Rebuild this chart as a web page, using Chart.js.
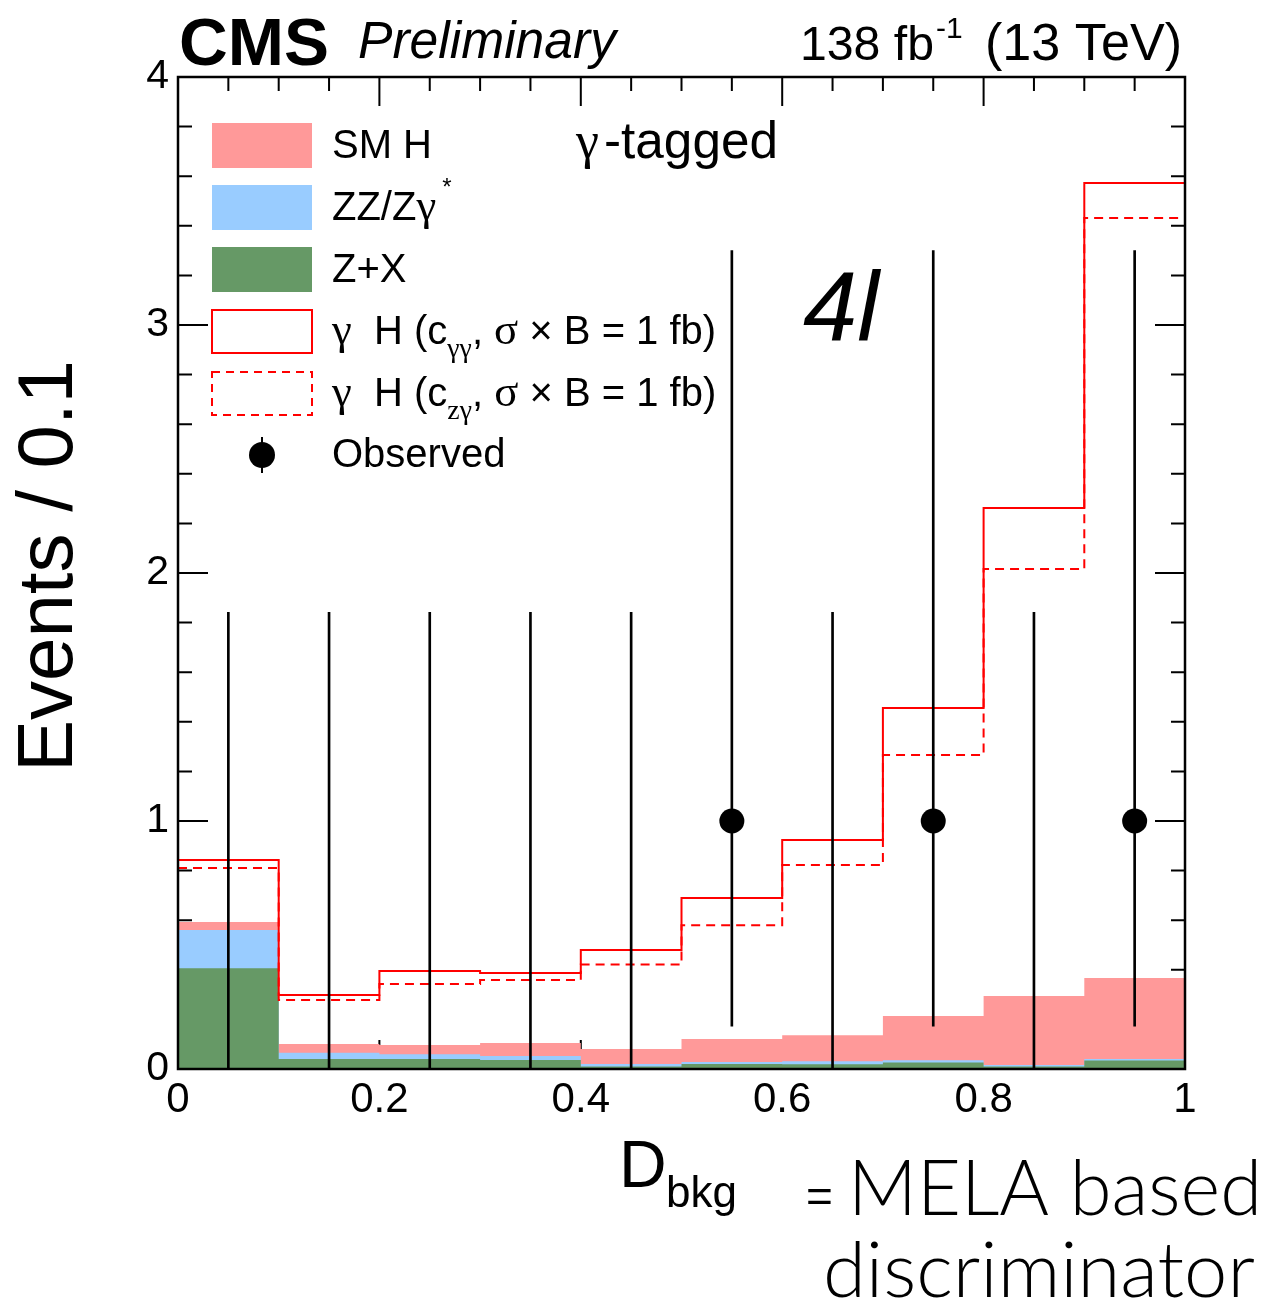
<!DOCTYPE html>
<html><head><meta charset="utf-8">
<script src="https://cdn.jsdelivr.net/npm/chart.js@4.4.0/dist/chart.umd.min.js"></script>
<style>html,body{margin:0;padding:0;background:#fff;} canvas{display:block;}</style>
</head><body>
<canvas id="c" width="1280" height="1312"></canvas>
<script>
// ---------------- data ----------------
const binEdges    = [0, 0.1, 0.2, 0.3, 0.4, 0.5, 0.6, 0.7, 0.8, 0.9, 1.0];
const binCenters  = [0.05, 0.15, 0.25, 0.35, 0.45, 0.55, 0.65, 0.75, 0.85, 0.95];
const zxValues    = [0.406, 0.040, 0.040, 0.036, 0.010, 0.020, 0.019, 0.026, 0.010, 0.034];
const zzValues    = [0.154, 0.026, 0.019, 0.016, 0.010, 0.008, 0.012, 0.009, 0.006, 0.006];
const smhValues   = [0.033, 0.035, 0.038, 0.053, 0.061, 0.093, 0.105, 0.179, 0.278, 0.327];
const gHggValues  = [0.843, 0.298, 0.395, 0.387, 0.480, 0.690, 0.923, 1.456, 2.262, 3.573];
const gHzgValues  = [0.810, 0.278, 0.343, 0.359, 0.421, 0.580, 0.823, 1.266, 2.016, 3.431];
const obsCounts   = [0, 0, 0, 0, 0, 1, 0, 1, 0, 1];
const obsErrLow   = [0, 0, 0, 0, 0, 0.827, 0, 0.827, 0, 0.827];
const obsErrHigh  = [1.841, 1.841, 1.841, 1.841, 1.841, 2.300, 1.841, 2.300, 1.841, 2.300];
const xTickValues = [0, 0.2, 0.4, 0.6, 0.8, 1.0];
const xTickLabels = ['0', '0.2', '0.4', '0.6', '0.8', '1'];
const yTickValues = [0, 1, 2, 3, 4];
const yTickLabels = ['0', '1', '2', '3', '4'];

// ---------------- styles ----------------
const COL_SMH = '#ff9999', COL_ZZ = '#99ccff', COL_ZX = '#669966', COL_RED = '#ff0000';
const SANS = '"Liberation Sans", Arial, Helvetica, sans-serif';
const SERIF = '"Liberation Serif", "DejaVu Serif", serif';
const THIN = 'Lato, "Open Sans", sans-serif';

function histPoints(vals) {
  const pts = [];
  vals.forEach((v, i) => { pts.push({x: binEdges[i], y: v}); pts.push({x: binEdges[i + 1], y: v}); });
  return pts;
}
const zzStack = zxValues.map((v, i) => v + zzValues[i]);
const totStack = zzStack.map((v, i) => v + smhValues[i]);

// ---------------- text helpers ----------------
function fitFont(ctx, text, weightStyle, family, baseSize, targetW) {
  ctx.font = `${weightStyle} ${baseSize}px ${family}`;
  const w = ctx.measureText(text).width;
  const size = targetW ? baseSize * targetW / w : baseSize;
  return `${weightStyle} ${size.toFixed(2)}px ${family}`;
}
// pieces: [text, kind, family]; kind 'n' | 'sub' | 'sup'; family 's' sans or 'g' serif (greek)
function drawPieces(ctx, x, y, pieces, size) {
  let cx = x;
  for (const [t, kind, fam] of pieces) {
    let fs = size, dy = 0;
    if (kind === 'sub') { fs = size * 0.62; dy = size * 0.33; }
    if (kind === 'sup') { fs = size * 0.6; dy = -size * 0.62; }
    const family = fam === 'g' ? SERIF : SANS;
    if (fam === 'g') fs *= 1.12;
    ctx.font = `${fs.toFixed(2)}px ${family}`;
    ctx.fillText(t, cx, y + dy);
    cx += ctx.measureText(t).width;
  }
  return cx;
}

// ---------------- plugins ----------------
const rootTicks = {
  id: 'rootTicks',
  beforeDatasetsDraw(chart) {
    const {ctx, chartArea: a, scales: {x, y}} = chart;
    ctx.save();
    ctx.strokeStyle = '#000';
    ctx.lineWidth = 2;
    ctx.beginPath();
    for (let i = 0; i <= 20; i++) {
      const px = x.getPixelForValue(i * 0.05);
      const len = (i % 4 === 0) ? 29 : 14;
      ctx.moveTo(px, a.bottom); ctx.lineTo(px, a.bottom - len);
      ctx.moveTo(px, a.top); ctx.lineTo(px, a.top + len);
    }
    for (let i = 0; i <= 20; i++) {
      const py = y.getPixelForValue(i * 0.2);
      const len = (i % 5 === 0) ? 30 : 14;
      ctx.moveTo(a.left, py); ctx.lineTo(a.left + len, py);
      ctx.moveTo(a.right, py); ctx.lineTo(a.right - len, py);
    }
    ctx.stroke();
    ctx.restore();
  },
  afterDatasetsDraw(chart) {
    const {ctx, chartArea: a} = chart;
    ctx.save();
    ctx.strokeStyle = '#000';
    ctx.lineWidth = 2.5;
    ctx.strokeRect(a.left, a.top, a.right - a.left, a.bottom - a.top);
    ctx.restore();
  }
};

const annotations = {
  id: 'annotations',
  afterDraw(chart) {
    const ctx = chart.ctx;
    ctx.save();
    ctx.fillStyle = '#000';
    ctx.textBaseline = 'alphabetic';
    ctx.textAlign = 'left';

    // header
    ctx.font = fitFont(ctx, 'CMS', 'bold', SANS, 66, 150);
    ctx.fillText('CMS', 179, 65);
    ctx.font = fitFont(ctx, 'Preliminary', 'italic', SANS, 50, 258);
    ctx.fillText('Preliminary', 358, 58);
    {
      const f = fitFont(ctx, '138 fb', '', SANS, 48, 134);
      ctx.font = f;
      ctx.fillText('138 fb', 800, 60);
      let cx = 800 + ctx.measureText('138 fb').width + 2;
      ctx.font = `30px ${SANS}`;
      ctx.fillText('-1', cx, 38);
      ctx.font = fitFont(ctx, '(13 TeV)', '', SANS, 48, 197);
      ctx.textAlign = 'right';
      ctx.fillText('(13 TeV)', 1182, 60);
      ctx.textAlign = 'left';
    }

    // y title
    ctx.save();
    ctx.translate(72, 566);
    ctx.rotate(-Math.PI / 2);
    ctx.textAlign = 'center';
    ctx.font = fitFont(ctx, 'Events / 0.1', '', SANS, 80, 412);
    ctx.fillText('Events / 0.1', 0, 0);
    ctx.restore();

    // x title
    ctx.font = `66px ${SANS}`;
    ctx.fillText('D', 619, 1187);
    ctx.font = fitFont(ctx, 'bkg', '', SANS, 42, 71);
    ctx.fillText('bkg', 666, 1207);
    {
      ctx.font = `300 46px ${SANS}`;
      const m = ctx.measureText('=');
      const asc = m.actualBoundingBoxAscent || 24, desc = m.actualBoundingBoxDescent || -10;
      const base = 1196 + (asc - desc) / 2;
      ctx.fillText('=', 806, base);
    }
    ctx.font = fitFont(ctx, 'MELA based', '300', THIN, 72, 414);
    ctx.fillText('MELA based', 848, 1215);
    ctx.font = fitFont(ctx, 'discriminator', '300', THIN, 72, 432);
    ctx.fillText('discriminator', 823, 1297);

    // in-plot labels
    ctx.font = `52px ${SERIF}`;
    ctx.fillText('γ', 576, 158);
    ctx.font = fitFont(ctx, '-tagged', '', SANS, 46, 174);
    ctx.fillText('-tagged', 604, 158);
    ctx.font = fitFont(ctx, '4l', 'italic', SANS, 100, 76);
    ctx.fillText('4l', 803, 340);

    // legend
    const bx = 212, bw = 100;
    ctx.fillStyle = COL_SMH; ctx.fillRect(bx, 123, bw, 45);
    ctx.fillStyle = COL_ZZ;  ctx.fillRect(bx, 185, bw, 45);
    ctx.fillStyle = COL_ZX;  ctx.fillRect(bx, 247, bw, 45);
    ctx.strokeStyle = COL_RED; ctx.lineWidth = 2;
    ctx.strokeRect(bx, 310, bw, 43);
    ctx.setLineDash([8, 6]);
    ctx.strokeRect(bx, 372, bw, 43);
    ctx.setLineDash([]);
    ctx.fillStyle = '#000';
    ctx.beginPath(); ctx.arc(262, 455, 13, 0, Math.PI * 2); ctx.fill();
    ctx.strokeStyle = '#000'; ctx.lineWidth = 2;
    ctx.beginPath(); ctx.moveTo(262, 437); ctx.lineTo(262, 473); ctx.stroke();

    const tx = 332, fs = 40;
    drawPieces(ctx, tx, 158, [['SM H', 'n', 's']], fs);
    const zzEnd = drawPieces(ctx, tx, 220, [['ZZ/Z', 'n', 's'], ['γ', 'n', 'g']], fs);
    drawPieces(ctx, zzEnd + 6, 220, [['*', 'sup', 's']], fs);
    drawPieces(ctx, tx, 282, [['Z+X', 'n', 's']], fs);
    drawPieces(ctx, tx, 344, [['γ', 'n', 'g'], ['  H (c', 'n', 's'], ['γγ', 'sub', 'g'], [', ', 'n', 's'], ['σ', 'n', 'g'], [' × B = 1 fb)', 'n', 's']], fs);
    drawPieces(ctx, tx, 406, [['γ', 'n', 'g'], ['  H (c', 'n', 's'], ['zγ', 'sub', 'g'], [', ', 'n', 's'], ['σ', 'n', 'g'], [' × B = 1 fb)', 'n', 's']], fs);
    drawPieces(ctx, tx, 467, [['Observed', 'n', 's']], fs);

    ctx.restore();
  }
};

// ---------------- chart ----------------
function makeChart() {
  const ctx = document.getElementById('c').getContext('2d');
  new Chart(ctx, {
    type: 'line',
    data: {
      datasets: [
        { label: 'Observed', type: 'line', showLine: false, order: 0,
          data: binCenters.map((x, i) => ({x, y: obsCounts[i]})),
          pointRadius: c => obsCounts[c.dataIndex] > 0 ? 12.5 : 0,
          pointHoverRadius: 0, pointBackgroundColor: '#000', pointBorderColor: '#000', pointBorderWidth: 0 },
        { label: 'Observed errors', type: 'bar', order: 1,
          data: binCenters.map((x, i) => ({x, y: [obsCounts[i] - obsErrLow[i], obsCounts[i] + obsErrHigh[i]]})),
          backgroundColor: '#000', borderWidth: 0, barThickness: 2 },
        { label: 'γH (cZγ)', order: 2, data: histPoints(gHzgValues),
          borderColor: COL_RED, borderWidth: 2, borderDash: [9, 6], pointRadius: 0, fill: false, tension: 0 },
        { label: 'γH (cγγ)', order: 3, data: histPoints(gHggValues),
          borderColor: COL_RED, borderWidth: 2, pointRadius: 0, fill: false, tension: 0 },
        { label: 'Z+X', order: 4, data: histPoints(zxValues),
          borderColor: 'rgba(0,0,0,0)', borderWidth: 0, backgroundColor: COL_ZX, fill: 'origin', pointRadius: 0 },
        { label: 'ZZ/Zγ*', order: 5, data: histPoints(zzStack),
          borderColor: 'rgba(0,0,0,0)', borderWidth: 0, backgroundColor: COL_ZZ, fill: 'origin', pointRadius: 0 },
        { label: 'SM H', order: 6, data: histPoints(totStack),
          borderColor: 'rgba(0,0,0,0)', borderWidth: 0, backgroundColor: COL_SMH, fill: 'origin', pointRadius: 0 }
      ]
    },
    options: {
      responsive: false, animation: false, devicePixelRatio: 1,
      layout: { padding: { left: 0, top: 77, right: 95, bottom: 0 } },
      plugins: { legend: { display: false }, tooltip: { enabled: false }, title: { display: false } },
      events: [],
      scales: {
        x: { type: 'linear', min: 0, max: 1, offset: false, position: 'bottom',
             afterFit: s => { s.height = 243; },
             afterBuildTicks: s => { s.ticks = xTickValues.map(v => ({value: v})); },
             ticks: { color: '#000', font: { family: SANS, size: 42 }, padding: 6, maxRotation: 0, autoSkip: false,
                      callback: (v, i) => xTickLabels[i] },
             grid: { display: false, drawTicks: false, offset: false }, border: { display: false } },
        y: { type: 'linear', min: 0, max: 4, position: 'left',
             afterFit: s => { s.width = 178; },
             afterBuildTicks: s => { s.ticks = yTickValues.map(v => ({value: v})); },
             ticks: { color: '#000', font: { family: SANS, size: 41 }, padding: 9,
                      callback: (v, i) => yTickLabels[i] },
             grid: { display: false, drawTicks: false }, border: { display: false } }
      }
    },
    plugins: [rootTicks, annotations]
  });
}
const fontLoads = [
  `40px "Liberation Sans"`, `bold 40px "Liberation Sans"`, `italic 40px "Liberation Sans"`,
  `40px "Liberation Serif"`, `300 40px Lato`, `40px Lato`
].map(f => document.fonts.load(f).catch(() => null));
Promise.race([Promise.all(fontLoads), new Promise(r => setTimeout(r, 800))]).then(makeChart);
</script>
</body></html>
